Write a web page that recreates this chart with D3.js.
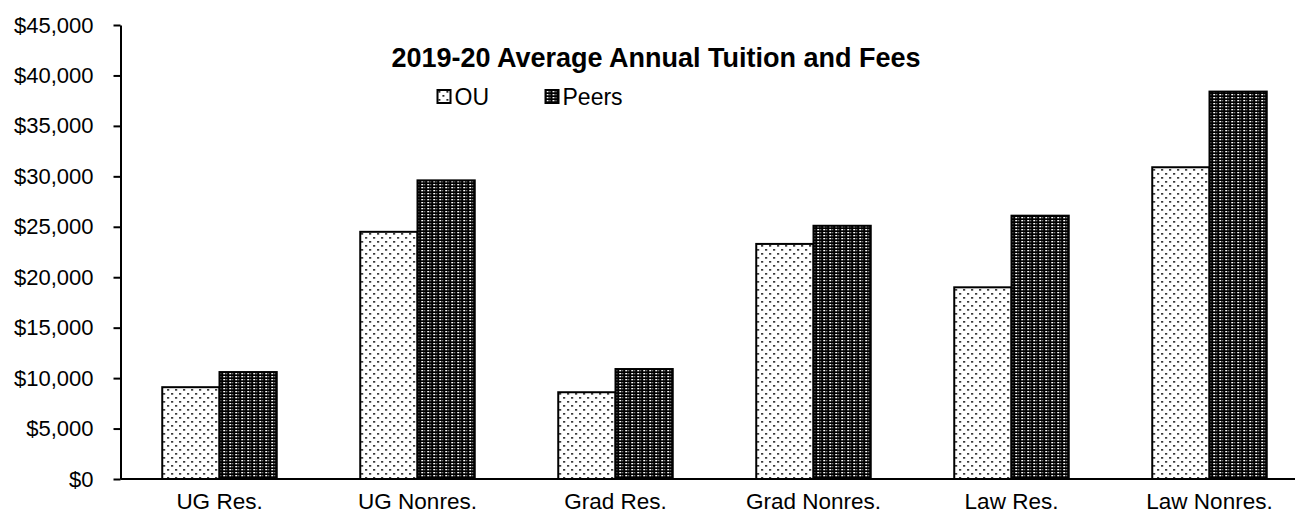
<!DOCTYPE html>
<html>
<head>
    <meta charset="utf-8">
    <title>2019-20 Average Annual Tuition and Fees</title>
    <style>
        body { margin: 0; background: #ffffff; }
        text { font-family: "Liberation Sans", Arial, sans-serif; fill: #000; }
    </style>
</head>
<body>
    <script src="https://cdn.jsdelivr.net/npm/d3@7/dist/d3.min.js"></script>
    <script type="text/javascript">
        // data
        var categories = ["UG Res.", "UG Nonres.", "Grad Res.", "Grad Nonres.", "Law Res.", "Law Nonres."];
        var seriesNames = ["OU", "Peers"];
        var ouValues = [9100, 24500, 8600, 23300, 19000, 30900];
        var peerValues = [10600, 29600, 10900, 25100, 26100, 38400];
        var yTicks = [0, 5000, 10000, 15000, 20000, 25000, 30000, 35000, 40000, 45000];
        var chartTitle = "2019-20 Average Annual Tuition and Fees";

        var width = 1295, height = 514;
        var plotLeft = 120.5, plotBottom = 479, plotTop = 25;

        var svg = d3.select("body").append("svg")
            .attr("width", width)
            .attr("height", height);

        var defs = svg.append("defs");

        // OU: sparse staggered black dots on white
        var p1 = defs.append("pattern")
            .attr("id", "pat-ou")
            .attr("patternUnits", "userSpaceOnUse")
            .attr("width", 8).attr("height", 8);
        p1.append("rect").attr("width", 8).attr("height", 8).attr("fill", "#fff");
        p1.append("rect").attr("x", 1).attr("y", 1).attr("width", 1.7).attr("height", 1.7).attr("fill", "#000");
        p1.append("rect").attr("x", 5).attr("y", 5).attr("width", 1.7).attr("height", 1.7).attr("fill", "#000");

        // Peers: columns of white dots on black
        var p2 = defs.append("pattern")
            .attr("id", "pat-peers")
            .attr("patternUnits", "userSpaceOnUse")
            .attr("width", 6).attr("height", 3);
        p2.append("rect").attr("width", 6).attr("height", 3).attr("fill", "#000");
        p2.append("rect").attr("x", 1).attr("y", 1).attr("width", 2).attr("height", 1.3).attr("fill", "#fff");
        p2.append("rect").attr("x", 4).attr("y", 1).attr("width", 1).attr("height", 1.3).attr("fill", "#999");

        var fills = { "OU": "url(#pat-ou)", "Peers": "url(#pat-peers)" };

        var rows = categories.map(function (c, i) {
            return { cat: c, values: [{ key: "OU", value: ouValues[i] }, { key: "Peers", value: peerValues[i] }] };
        });

        var step = 198;
        var x0 = d3.scaleBand()
            .domain(categories)
            .range([plotLeft, plotLeft + step * categories.length])
            .paddingInner(0.4217)
            .paddingOuter(0.4217 / 2);

        var x1 = d3.scaleBand()
            .domain(seriesNames)
            .range([0, x0.bandwidth()]);

        var y = d3.scaleLinear()
            .domain([0, 45000])
            .range([plotBottom, plotTop]);

        // bars
        var groups = svg.selectAll(".grp")
            .data(rows)
            .enter()
            .append("g")
            .attr("class", "grp")
            .attr("transform", function (d) { return "translate(" + x0(d.cat) + ",0)"; });

        groups.selectAll("rect")
            .data(function (d) { return d.values; })
            .enter()
            .append("rect")
            .attr("x", function (d) { return x1(d.key); })
            .attr("y", function (d) { return y(d.value); })
            .attr("width", x1.bandwidth())
            .attr("height", function (d) { return plotBottom - y(d.value); })
            .attr("fill", function (d) { return fills[d.key]; })
            .attr("stroke", "#000")
            .attr("stroke-width", 2);

        // y axis
        var yAxis = d3.axisLeft(y)
            .tickValues(yTicks)
            .tickSizeInner(7)
            .tickSizeOuter(0)
            .tickPadding(20)
            .tickFormat(function (d) { return "$" + d3.format(",")(d); });

        var ya = svg.append("g")
            .attr("transform", "translate(" + plotLeft + ",0)")
            .call(yAxis);
        ya.selectAll("path, line").attr("stroke", "#000").attr("stroke-width", 2);
        ya.selectAll("text").style("font-size", "22px").attr("fill", "#000");

        // x axis
        var xAxis = d3.axisBottom(x0)
            .tickSize(0)
            .tickPadding(14);

        var xa = svg.append("g")
            .attr("transform", "translate(0," + plotBottom + ")")
            .call(xAxis);
        xa.select("path").attr("stroke", "#000").attr("stroke-width", 2)
            .attr("d", "M" + plotLeft + ",0H" + width);
        xa.selectAll("text").style("font-size", "22.5px").attr("fill", "#000");

        // title
        svg.append("text")
            .attr("x", 656)
            .attr("y", 67)
            .attr("text-anchor", "middle")
            .style("font-size", "27px")
            .style("font-weight", "bold")
            .text(chartTitle);

        // legend
        var legendPos = [437.5, 545.5];
        var legend = svg.selectAll(".legend")
            .data(seriesNames)
            .enter()
            .append("g")
            .attr("class", "legend")
            .attr("transform", function (d, i) { return "translate(" + legendPos[i] + ",90)"; });

        legend.append("rect")
            .attr("width", 13)
            .attr("height", 13)
            .attr("fill", function (d) { return fills[d]; })
            .attr("stroke", "#000")
            .attr("stroke-width", 2);

        legend.append("text")
            .attr("x", 17)
            .attr("y", 14.5)
            .style("font-size", "23px")
            .text(function (d) { return d; });
    </script>
</body>
</html>
